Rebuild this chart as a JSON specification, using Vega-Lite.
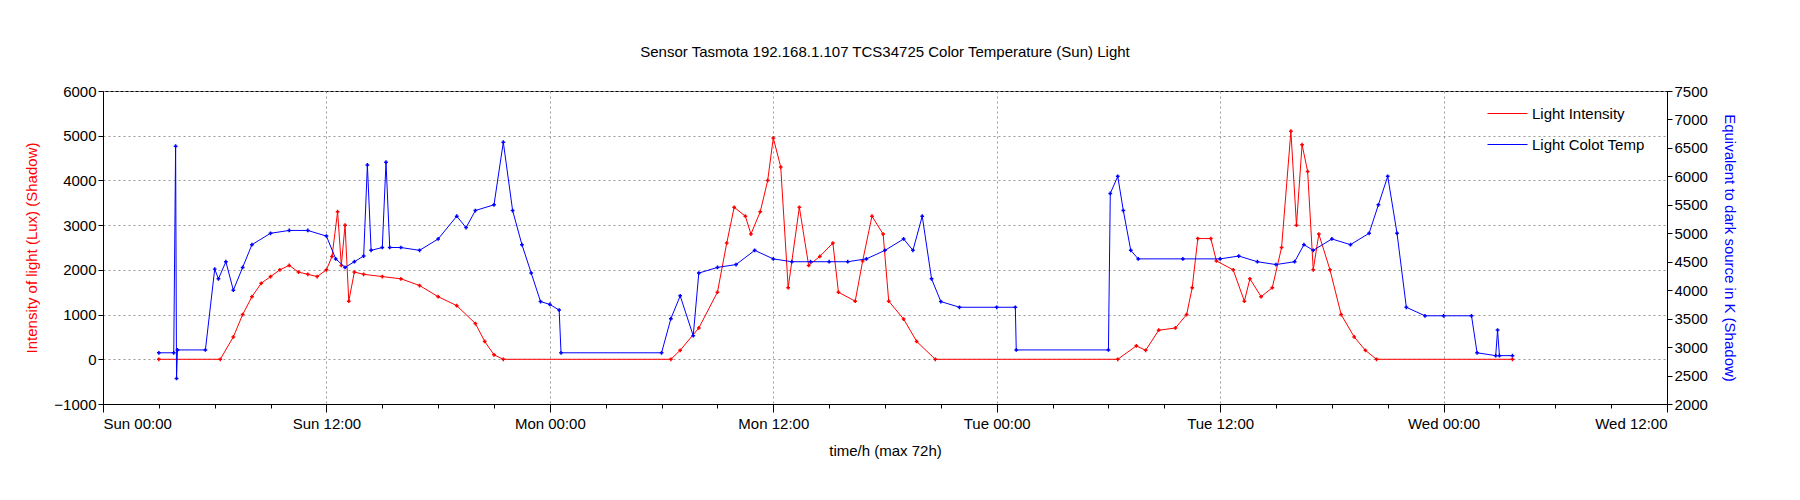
{
  "$schema": "https://vega.github.io/schema/vega-lite/v6.json",
  "width": 1564,
  "height": 313,
  "autosize": {"type": "none"},
  "padding": {"left": 103, "top": 91, "right": 133, "bottom": 96},
  "background": "white",
  "title": {"text": "Sensor Tasmota 192.168.1.107 TCS34725 Color Temperature (Sun) Light", "fontSize": 15, "fontWeight": "normal", "font": "Liberation Sans", "offset": 24},
  "config": {
    "font": "Liberation Sans",
    "view": {"stroke": "black", "strokeWidth": 1},
    "axis": {"labelFontSize": 15, "titleFontSize": 15, "titleFontWeight": "normal", "labelColor": "black", "domainColor": "black", "tickColor": "black", "gridColor": "#999", "gridDash": [2, 3], "format": "d"}
  },
  "datasets": {
    "lux": [
      {"h": 3.0, "v": 0}, {"h": 6.3, "v": 0}, {"h": 7.0, "v": 500}, {"h": 7.5, "v": 1000}, {"h": 8.0, "v": 1400},
      {"h": 8.5, "v": 1700}, {"h": 9.0, "v": 1850}, {"h": 9.5, "v": 2000}, {"h": 10.0, "v": 2100}, {"h": 10.5, "v": 1950},
      {"h": 11.0, "v": 1900}, {"h": 11.5, "v": 1850}, {"h": 12.0, "v": 2000}, {"h": 12.3, "v": 2300}, {"h": 12.6, "v": 3300},
      {"h": 12.8, "v": 2100}, {"h": 13.0, "v": 3000}, {"h": 13.2, "v": 1300}, {"h": 13.5, "v": 1950}, {"h": 14.0, "v": 1900},
      {"h": 15.0, "v": 1850}, {"h": 16.0, "v": 1800}, {"h": 17.0, "v": 1650}, {"h": 18.0, "v": 1400}, {"h": 19.0, "v": 1200},
      {"h": 20.0, "v": 800}, {"h": 20.5, "v": 400}, {"h": 21.0, "v": 100}, {"h": 21.5, "v": 0}, {"h": 30.5, "v": 0},
      {"h": 31.0, "v": 200}, {"h": 32.0, "v": 700}, {"h": 33.0, "v": 1500}, {"h": 33.5, "v": 2600}, {"h": 33.9, "v": 3400},
      {"h": 34.5, "v": 3200}, {"h": 34.8, "v": 2800}, {"h": 35.3, "v": 3300}, {"h": 35.7, "v": 4000}, {"h": 36.0, "v": 4950},
      {"h": 36.4, "v": 4300}, {"h": 36.8, "v": 1600}, {"h": 37.4, "v": 3400}, {"h": 37.9, "v": 2100}, {"h": 38.5, "v": 2300},
      {"h": 39.2, "v": 2600}, {"h": 39.5, "v": 1500}, {"h": 40.4, "v": 1300}, {"h": 40.8, "v": 2200}, {"h": 41.3, "v": 3200},
      {"h": 41.9, "v": 2800}, {"h": 42.2, "v": 1300}, {"h": 43.0, "v": 900}, {"h": 43.7, "v": 400}, {"h": 44.7, "v": 0},
      {"h": 54.5, "v": 0}, {"h": 55.5, "v": 300}, {"h": 56.0, "v": 200}, {"h": 56.7, "v": 650}, {"h": 57.6, "v": 700},
      {"h": 58.2, "v": 1000}, {"h": 58.5, "v": 1600}, {"h": 58.8, "v": 2700}, {"h": 59.5, "v": 2700}, {"h": 59.8, "v": 2200},
      {"h": 60.7, "v": 2000}, {"h": 61.3, "v": 1300}, {"h": 61.6, "v": 1800}, {"h": 62.2, "v": 1400}, {"h": 62.8, "v": 1600},
      {"h": 63.3, "v": 2500}, {"h": 63.8, "v": 5100}, {"h": 64.1, "v": 3000}, {"h": 64.4, "v": 4800}, {"h": 64.7, "v": 4200},
      {"h": 65.0, "v": 2000}, {"h": 65.3, "v": 2800}, {"h": 65.9, "v": 2000}, {"h": 66.5, "v": 1000}, {"h": 67.2, "v": 500},
      {"h": 67.8, "v": 200}, {"h": 68.4, "v": 0}, {"h": 75.7, "v": 0}
    ],
    "kelvin": [
      {"h": 3.0, "v": 2900}, {"h": 3.8, "v": 2900}, {"h": 3.9, "v": 6530}, {"h": 3.95, "v": 2450}, {"h": 4.0, "v": 2950},
      {"h": 5.5, "v": 2950}, {"h": 6.0, "v": 4370}, {"h": 6.2, "v": 4200}, {"h": 6.6, "v": 4500}, {"h": 7.0, "v": 4000},
      {"h": 7.5, "v": 4400}, {"h": 8.0, "v": 4800}, {"h": 9.0, "v": 5000}, {"h": 10.0, "v": 5050}, {"h": 11.0, "v": 5050},
      {"h": 12.0, "v": 4950}, {"h": 12.5, "v": 4550}, {"h": 13.0, "v": 4400}, {"h": 13.5, "v": 4500}, {"h": 14.0, "v": 4600},
      {"h": 14.2, "v": 6200}, {"h": 14.4, "v": 4700}, {"h": 15.0, "v": 4750}, {"h": 15.2, "v": 6250}, {"h": 15.4, "v": 4750},
      {"h": 16.0, "v": 4750}, {"h": 17.0, "v": 4700}, {"h": 18.0, "v": 4900}, {"h": 19.0, "v": 5300}, {"h": 19.5, "v": 5100},
      {"h": 20.0, "v": 5400}, {"h": 21.0, "v": 5500}, {"h": 21.5, "v": 6600}, {"h": 22.0, "v": 5400}, {"h": 22.5, "v": 4800},
      {"h": 23.0, "v": 4300}, {"h": 23.5, "v": 3800}, {"h": 24.0, "v": 3750}, {"h": 24.5, "v": 3650}, {"h": 24.6, "v": 2900},
      {"h": 30.0, "v": 2900}, {"h": 30.5, "v": 3500}, {"h": 31.0, "v": 3900}, {"h": 31.7, "v": 3200}, {"h": 32.0, "v": 4300},
      {"h": 33.0, "v": 4400}, {"h": 34.0, "v": 4450}, {"h": 35.0, "v": 4700}, {"h": 36.0, "v": 4550}, {"h": 37.0, "v": 4500},
      {"h": 38.0, "v": 4500}, {"h": 39.0, "v": 4500}, {"h": 40.0, "v": 4500}, {"h": 41.0, "v": 4550}, {"h": 42.0, "v": 4700},
      {"h": 43.0, "v": 4900}, {"h": 43.5, "v": 4700}, {"h": 44.0, "v": 5300}, {"h": 44.5, "v": 4200}, {"h": 45.0, "v": 3800},
      {"h": 46.0, "v": 3700}, {"h": 48.0, "v": 3700}, {"h": 49.0, "v": 3700}, {"h": 49.05, "v": 2950}, {"h": 54.0, "v": 2950},
      {"h": 54.1, "v": 5700}, {"h": 54.5, "v": 6000}, {"h": 54.8, "v": 5400}, {"h": 55.2, "v": 4700}, {"h": 55.6, "v": 4550},
      {"h": 58.0, "v": 4550}, {"h": 60.0, "v": 4550}, {"h": 61.0, "v": 4600}, {"h": 62.0, "v": 4500}, {"h": 63.0, "v": 4450},
      {"h": 64.0, "v": 4500}, {"h": 64.5, "v": 4800}, {"h": 65.0, "v": 4700}, {"h": 66.0, "v": 4900}, {"h": 67.0, "v": 4800},
      {"h": 68.0, "v": 5000}, {"h": 68.5, "v": 5500}, {"h": 69.0, "v": 6000}, {"h": 69.5, "v": 5000}, {"h": 70.0, "v": 3700},
      {"h": 71.0, "v": 3550}, {"h": 72.0, "v": 3550}, {"h": 73.5, "v": 3550}, {"h": 73.8, "v": 2900}, {"h": 74.8, "v": 2850},
      {"h": 74.9, "v": 3300}, {"h": 75.0, "v": 2850}, {"h": 75.7, "v": 2850}
    ]
  },
  "encoding": {
    "x": {
      "field": "h", "type": "quantitative",
      "scale": {"domain": [0, 84], "nice": false, "zero": false},
      "axis": {
        "values": [0, 3, 6, 9, 12, 15, 18, 21, 24, 27, 30, 33, 36, 39, 42, 45, 48, 51, 54, 57, 60, 63, 66, 69, 72, 75, 78, 81, 84],
        "labelExpr": "datum.value % 12 ? '' : ['Sun 00:00','Sun 12:00','Mon 00:00','Mon 12:00','Tue 00:00','Tue 12:00','Wed 00:00','Wed 12:00'][datum.value / 12]",
        "gridOpacity": {"condition": {"test": "datum.value % 12 !== 0", "value": 0}, "value": 1},
        "tickSize": {"condition": {"test": "datum.value % 12 !== 0", "value": 4}, "value": 8},
        "title": "time/h (max 72h)",
        "titlePadding": 12,
        "labelPadding": 4
      }
    },
    "color": {
      "type": "nominal",
      "scale": {"domain": ["Light Intensity", "Light Colot Temp"], "range": ["red", "blue"]},
      "legend": {
        "title": null, "orient": "none", "legendX": 1380, "legendY": -2,
        "symbolType": "stroke", "symbolSize": 1600, "symbolStrokeWidth": 1,
        "labelFontSize": 15, "rowPadding": 2, "padding": 4
      }
    }
  },
  "layer": [
    {
      "data": {"name": "lux"},
      "mark": {"type": "line", "strokeWidth": 1, "point": {"shape": "cross", "size": 14, "filled": true}},
      "encoding": {
        "y": {
          "field": "v", "type": "quantitative",
          "scale": {"domain": [-1000, 6000], "nice": false},
          "axis": {"title": "Intensity of light (Lux) (Shadow)", "titleColor": "red", "tickCount": 7, "grid": true, "titlePadding": 14}
        },
        "color": {"datum": "Light Intensity"}
      }
    },
    {
      "data": {"name": "kelvin"},
      "mark": {"type": "line", "strokeWidth": 1, "point": {"shape": "cross", "size": 14, "filled": true}},
      "encoding": {
        "y": {
          "field": "v", "type": "quantitative",
          "scale": {"domain": [2000, 7500], "nice": false},
          "axis": {"orient": "right", "title": "Equivalent to dark source in K (Shadow)", "titleColor": "blue", "tickCount": 11, "grid": false, "titlePadding": 14}
        },
        "color": {"datum": "Light Colot Temp"}
      }
    }
  ],
  "resolve": {"scale": {"y": "independent"}}
}
